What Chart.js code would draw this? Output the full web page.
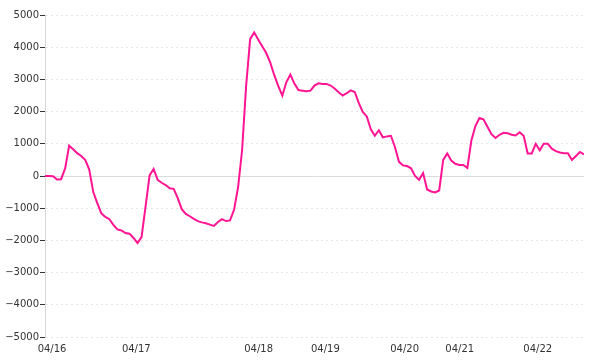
<!DOCTYPE html>
<html>
<head>
<meta charset="utf-8">
<script src="https://cdn.jsdelivr.net/npm/chart.js@4"></script>
<style>
  html,body{margin:0;padding:0;background:#fff;}
  #wrap{width:600px;height:360px;}
</style>
</head>
<body>
<div id="wrap"><canvas id="myChart"></canvas></div>
<script>
// ---------- data ----------
const values = [
  0, 0, -10, -110, -100, 230, 940, 830, 710, 620,
  500, 200, -500, -840, -1160, -1270, -1340, -1520, -1660, -1690,
  -1770, -1790, -1925, -2080, -1900, -950, 20, 220, -120, -210,
  -280, -380, -400, -690, -1030, -1180, -1250, -1330, -1400, -1440,
  -1470, -1510, -1550, -1430, -1340, -1400, -1380, -1050, -350, 800,
  2800, 4250, 4460, 4240, 4030, 3820, 3520, 3130, 2790, 2500,
  2910, 3150, 2870, 2670, 2650, 2630, 2650, 2810, 2880, 2860,
  2860, 2810, 2720, 2600, 2500, 2570, 2660, 2610, 2270, 1990,
  1850, 1450, 1250, 1420, 1200, 1230, 1250, 900, 440, 330,
  310, 240, 0, -120, 90, -420, -480, -510, -450, 500,
  700, 480, 380, 340, 340, 250, 1100, 1550, 1800, 1760,
  1530, 1300, 1180, 1280, 1340, 1330, 1280, 1260, 1360, 1250,
  700, 700, 1000, 800, 1000, 1000, 850, 770, 730, 710,
  710, 500, 620, 745, 670
];
const dayLabels = ['04/16', '04/17', '04/18', '04/19', '04/20', '04/21', '04/22'];
const dayStart = [1.75, 22.7, 53.1, 69.7, 89.4, 103.1, 122.5]; // sample index where each day begins
const yTicks = [-5000, -4000, -3000, -2000, -1000, 0, 1000, 2000, 3000, 4000, 5000];

const points = values.map((v, i) => ({x: i, y: v}));

// solid zero line across the plot
const zeroLine = {
  id: 'zeroLine',
  beforeDatasetsDraw(chart) {
    const {ctx, chartArea, scales} = chart;
    const y = Math.round(scales.y.getPixelForValue(0)) + 0.5;
    ctx.save();
    ctx.strokeStyle = '#dcdcdc';
    ctx.lineWidth = 1;
    ctx.beginPath();
    ctx.moveTo(chartArea.left, y);
    ctx.lineTo(chartArea.right, y);
    ctx.stroke();
    ctx.restore();
  }
};

Chart.defaults.font.family = '"DejaVu Sans", Verdana, sans-serif';
Chart.defaults.font.size = 10;
Chart.defaults.color = '#333';

const chart = new Chart(document.getElementById('myChart'), {
  type: 'line',
  data: {
    datasets: [{
      data: points,
      borderColor: '#ff1493',
      borderWidth: 2,
      pointRadius: 0,
      tension: 0,
      fill: false
    }]
  },
  options: {
    responsive: true,
    maintainAspectRatio: false,
    animation: false,
    layout: {padding: {top: 15, right: 16, left: 0, bottom: 0}},
    plugins: {legend: {display: false}, tooltip: {enabled: false}},
    scales: {
      x: {
        type: 'linear',
        min: 0,
        max: values.length - 1,
        afterBuildTicks: (scale) => {
          scale.ticks = dayStart.map(v => ({value: v}));
        },
        ticks: {
          autoSkip: false,
          maxRotation: 0,
          padding: 6,
          callback: (v, i) => dayLabels[i]
        },
        grid: {display: false, drawTicks: false},
        border: {display: false},
        afterFit: (scale) => { scale.height = 23; }
      },
      y: {
        min: -5000,
        max: 5000,
        afterBuildTicks: (scale) => {
          scale.ticks = yTicks.map(v => ({value: v}));
        },
        ticks: {
          padding: 1,
          callback: (v) => (v < 0 ? '\u2212' + Math.abs(v) : String(v))
        },
        grid: {
          color: '#e6e6e6',
          tickColor: '#333',
          tickLength: 5,
          tickBorderDash: []
        },
        border: {display: true, color: '#d8d8d8', dash: [2, 3]},
        afterFit: (scale) => { scale.width = 45; }
      }
    }
  },
  plugins: [zeroLine]
});
</script>
</body>
</html>
